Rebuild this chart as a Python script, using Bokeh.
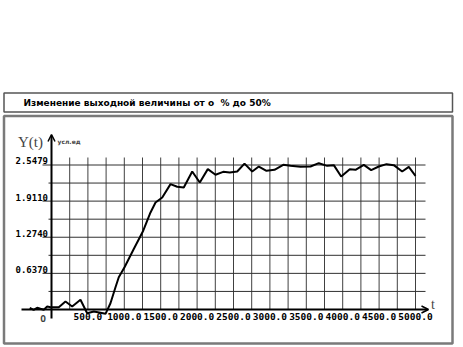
from bokeh.plotting import figure
from bokeh.models import Range1d, Arrow, OpenHead, Label
from bokeh.core.properties import value
from bokeh.embed import file_html
from bokeh.resources import INLINE

# ---------------- data ----------------
t_values = [-299, -245, -198, -151, -106, -59, -14, 100, 192, 284, 398, 490, 581, 673, 742,
            810, 879, 924, 1003, 1130, 1260, 1360, 1429, 1521, 1635, 1727, 1817, 1933, 2037,
            2147, 2253, 2358, 2449, 2551, 2651, 2757, 2848, 2953, 3063, 3183, 3283, 3420,
            3558, 3672, 3787, 3878, 3979, 4097, 4176, 4290, 4391, 4496, 4602, 4702, 4817,
            4908, 5000]
y_values = [0.030, -0.005, 0.030, 0.012, -0.005, 0.053, 0.040, 0.040, 0.141, 0.053, 0.171,
            -0.065, -0.035, -0.058, -0.076, 0.111, 0.392, 0.568, 0.744, 1.068, 1.390, 1.711,
            1.887, 1.975, 2.211, 2.164, 2.151, 2.433, 2.239, 2.475, 2.375, 2.427, 2.415,
            2.433, 2.573, 2.433, 2.521, 2.445, 2.463, 2.551, 2.533, 2.515, 2.521, 2.580,
            2.533, 2.545, 2.345, 2.475, 2.463, 2.551, 2.457, 2.521, 2.563, 2.545, 2.433,
            2.515, 2.357]

x_tick_values = [500, 1000, 1500, 2000, 2500, 3000, 3500, 4000, 4500, 5000]
x_tick_labels = ["500.0", "1000.0", "1500.0", "2000.0", "2500.0", "3000.0", "3500.0",
                 "4000.0", "4500.0", "5000.0"]
x_grid_values = [250 * k for k in range(1, 21)]
y_tick_values = [0.6370, 1.2740, 1.9110, 2.5479]
y_tick_labels = ["0.6370", "1.2740", "1.9110", "2.5479"]
y_grid_minor = [0.3185, 0.9555, 1.5925, 2.2295]

title_text = "Изменение выходной величины от о\u00a0\u00a0% до 50%"
y_name = "Y(t)"
y_unit = "усл.ед"
x_name = "t"
origin_label = "O"

# ---------------- layout scale ----------------
W, H = 463, 347
OX, OY = 51.0, 309.0           # pixel position of the origin
T_PER_PX = 250 / 18.2
Y_PER_PX = 2.5479 / 144.5


def px2x(px):
    return (px - OX) * T_PER_PX


def px2y(py):
    return (OY - py) * Y_PER_PX


p = figure(width=W, height=H, output_backend="svg", toolbar_location=None,
           x_axis_type=None, y_axis_type=None, min_border=0,
           x_range=Range1d(px2x(0), px2x(W)), y_range=Range1d(px2y(H), px2y(0)))
p.outline_line_color = None
p.background_fill_color = "white"
p.border_fill_color = "white"
p.grid.visible = False

# outer frame of the chart panel
p.quad(left=[px2x(3.5)], right=[px2x(452)], top=[px2y(115.5)], bottom=[px2y(343)],
       fill_color=None, line_color="#7a7a7a", line_width=2.5)

# title box
p.quad(left=[px2x(3.5)], right=[px2x(452)], top=[px2y(92.5)], bottom=[px2y(111.5)],
       fill_color=None, line_color="#555555", line_width=1.5)
p.add_layout(Label(x=px2x(23), y=px2y(102), text=title_text, text_font="DejaVu Sans",
                   text_font_style="bold", text_font_size="9px", text_baseline="middle",
                   text_align="left", text_color="black"))

# grid lines
top_v = px2y(157)
p.segment(x0=x_grid_values, y0=[0] * len(x_grid_values), x1=x_grid_values,
          y1=[top_v] * len(x_grid_values), line_color="#404040", line_width=1)
p.segment(x0=[px2x(42)] * len(y_tick_values), y0=y_tick_values,
          x1=[px2x(425)] * len(y_tick_values), y1=y_tick_values,
          line_color="#303030", line_width=1)
p.segment(x0=[px2x(48)] * len(y_grid_minor), y0=y_grid_minor,
          x1=[px2x(425)] * len(y_grid_minor), y1=y_grid_minor,
          line_color="#303030", line_width=1)

# axes
p.add_layout(Arrow(end=OpenHead(size=7, line_width=1.5, line_color="black"),
                   x_start=px2x(21), y_start=0, x_end=px2x(428), y_end=0,
                   line_width=2, line_color="black"))
p.add_layout(Arrow(end=OpenHead(size=7, line_width=1.5, line_color="black"),
                   x_start=0, y_start=px2y(318), x_end=0, y_end=px2y(134),
                   line_width=2, line_color="black"))

# data line
p.line(t_values, y_values, line_color="black", line_width=2)

# tick labels
p.text(x=[px2x(47.5)] * len(y_tick_values), y=[v + 0.6 * Y_PER_PX for v in y_tick_values],
       text=y_tick_labels, text_font=value("DejaVu Sans Mono"), text_font_style="bold",
       text_font_size="9px", text_align="right", text_baseline="bottom", text_color="black")
p.text(x=x_tick_values, y=[px2y(312)] * len(x_tick_values), text=x_tick_labels,
       text_font=value("DejaVu Sans Mono"), text_font_style="bold", text_font_size="9.5px",
       text_align="center", text_baseline="top", text_color="black")
p.add_layout(Label(x=px2x(42.5), y=px2y(312), text=origin_label,
                   text_font="DejaVu Sans Mono", text_font_style="bold",
                   text_font_size="9.5px", text_align="center", text_baseline="top"))

# axis names
p.add_layout(Label(x=px2x(17.5), y=px2y(141.5), text=y_name, text_font="Liberation Serif",
                   text_font_size="15px", text_align="left", text_baseline="alphabetic"))
p.add_layout(Label(x=px2x(57), y=px2y(141), text=y_unit, text_font="DejaVu Sans",
                   text_font_style="bold", text_font_size="6px", text_align="left",
                   text_baseline="alphabetic"))
p.add_layout(Label(x=px2x(430.5), y=px2y(304), text=x_name, text_font="Liberation Serif",
                   text_font_size="14px", text_align="left", text_baseline="alphabetic"))

open("out.html", "w").write(file_html(p, INLINE))
